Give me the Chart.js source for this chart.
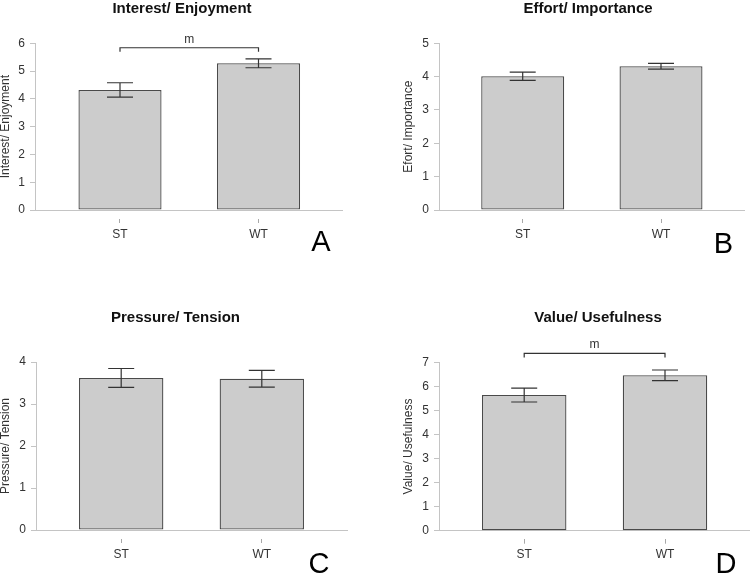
<!DOCTYPE html>
<html>
<head>
<meta charset="utf-8">
<title>Interest, effort, pressure and value by group</title>
<script src="https://cdn.jsdelivr.net/npm/chart.js"></script>
<style>
  body { margin: 0; background: #fff; }
  #wrap { position: relative; width: 750px; height: 575px; background: #fff; overflow: hidden; }
  #wrap canvas { position: absolute; }
</style>
</head>
<body>
<div id="wrap">
  <canvas id="panelA" width="375" height="290" style="left:0;top:0"></canvas>
  <canvas id="panelB" width="375" height="290" style="left:375px;top:0"></canvas>
  <canvas id="panelC" width="375" height="285" style="left:0;top:290px"></canvas>
  <canvas id="panelD" width="375" height="285" style="left:375px;top:290px"></canvas>
</div>
<script>
// groups
const categories = ["ST", "WT"];

// titles / labels
const panelTitles = ["Interest/ Enjoyment", "Effort/ Importance", "Pressure/ Tension", "Value/ Usefulness"];
const axisTitles = ["Interest/ Enjoyment", "Efort/ Importance", "Pressure/ Tension", "Value/ Usefulness"];
const panelLetters = ["A", "B", "C", "D"];

// means and error bar half-lengths
const interestMeans = [4.32, 5.28];
const interestErr = [0.26, 0.16];
const effortMeans = [4.01, 4.31];
const effortErr = [0.125, 0.085];
const pressureMeans = [3.62, 3.60];
const pressureErr = [0.225, 0.20];
const valueMeans = [5.64, 6.46];
const valueErr = [0.29, 0.22];

// y axis tops
const yMaxes = [6, 5, 4, 7];

// significance brackets (label and height in axis units)
const sigLabels = ["m", "", "", "m"];
const sigLevels = [5.84, null, null, 7.37];

const FONT = "'Liberation Sans', Arial, Helvetica, sans-serif";
const AXIS_GRAY = "#c4c4c4";
const INK = "#333333";

// pixel layout of each panel inside its canvas
const layouts = [
    {id: "panelA", w: 375, h: 290, left: 35, right: 342, top: 43.3, bottom: 210, c0: 120, c1: 258.5, title: [182, 9], letter: [321, 243], yTitlePad: -1.5},
    {id: "panelB", w: 375, h: 290, left: 64, right: 369, top: 43.3, bottom: 210, c0: 147.7, c1: 286, title: [213, 9], letter: [348.5, 245], yTitlePad: 26},
    {id: "panelC", w: 375, h: 285, left: 36, right: 347, top: 72, bottom: 240, c0: 121.2, c1: 261.8, title: [175.5, 28], letter: [319, 275], yTitlePad: -1.5},
    {id: "panelD", w: 375, h: 285, left: 64, right: 375, top: 72.3, bottom: 240.7, c0: 149.2, c1: 290, title: [223, 28], letter: [351, 275], yTitlePad: 26}
];

const panelMeans = [interestMeans, effortMeans, pressureMeans, valueMeans];
const panelErrs = [interestErr, effortErr, pressureErr, valueErr];

function makeDecor(i) {
    const lay = layouts[i];
    return {
        id: "panelDecor" + i,
        afterDatasetsDraw(chart) {
            const ctx = chart.ctx;
            const xs = chart.scales.x;
            const ys = chart.scales.y;
            ctx.save();
            ctx.strokeStyle = INK;
            ctx.lineWidth = 1.2;
            panelMeans[i].forEach(function (m, k) {
                const px = xs.getPixelForValue(k);
                const hi = ys.getPixelForValue(m + panelErrs[i][k]);
                const lo = ys.getPixelForValue(m - panelErrs[i][k]);
                ctx.beginPath();
                ctx.moveTo(px, hi);
                ctx.lineTo(px, lo);
                ctx.moveTo(px - 13, hi);
                ctx.lineTo(px + 13, hi);
                ctx.moveTo(px - 13, lo);
                ctx.lineTo(px + 13, lo);
                ctx.stroke();
            });
            ctx.restore();
        },
        afterDraw(chart) {
            const ctx = chart.ctx;
            const xs = chart.scales.x;
            const ys = chart.scales.y;
            ctx.save();
            // significance bracket
            if (sigLevels[i] !== null) {
                const x0 = xs.getPixelForValue(0);
                const x1 = xs.getPixelForValue(1);
                const by = ys.getPixelForValue(sigLevels[i]);
                ctx.strokeStyle = INK;
                ctx.lineWidth = 1.2;
                ctx.beginPath();
                ctx.moveTo(x0, by + 4);
                ctx.lineTo(x0, by);
                ctx.lineTo(x1, by);
                ctx.lineTo(x1, by + 4);
                ctx.stroke();
                ctx.fillStyle = INK;
                ctx.font = "12px " + FONT;
                ctx.textAlign = "center";
                ctx.textBaseline = "alphabetic";
                ctx.fillText(sigLabels[i], (x0 + x1) / 2, by - 5);
            }
            // panel title
            ctx.fillStyle = "#111";
            ctx.font = "bold 15px " + FONT;
            ctx.textAlign = "center";
            ctx.textBaseline = "middle";
            ctx.fillText(panelTitles[i], lay.title[0], lay.title[1]);
            // panel letter
            ctx.fillStyle = "#000";
            ctx.font = "29px " + FONT;
            ctx.fillText(panelLetters[i], lay.letter[0], lay.letter[1]);
            ctx.restore();
        }
    };
}

function initPanel(i) {
    const lay = layouts[i];
    const canvas = document.getElementById(lay.id);
    const span = lay.c1 - lay.c0;
    const xMin = (lay.left - lay.c0) / span;
    const xMax = 1 + (lay.right - lay.c1) / span;

    new Chart(canvas, {
        type: "bar",
        data: {
            datasets: [{
                data: panelMeans[i].map(function (v, k) { return {x: k, y: v}; }),
                backgroundColor: "#cccccc",
                borderColor: "#4a4a4a",
                borderWidth: 1.3,
                borderSkipped: false,
                barPercentage: 0.6,
                categoryPercentage: 1
            }]
        },
        options: {
            responsive: false,
            animation: false,
            devicePixelRatio: 1,
            layout: {
                padding: {left: 0, right: lay.w - lay.right, top: lay.top, bottom: 0}
            },
            plugins: {
                legend: {display: false},
                tooltip: {enabled: false},
                title: {display: false}
            },
            scales: {
                x: {
                    type: "linear",
                    min: xMin,
                    max: xMax,
                    offset: false,
                    afterBuildTicks: function (scale) {
                        scale.ticks = categories.map(function (c, k) { return {value: k}; });
                    },
                    afterFit: function (scale) {
                        scale.height = lay.h - lay.bottom;
                    },
                    grid: {
                        offset: false,
                        drawOnChartArea: false,
                        drawTicks: true,
                        tickLength: 13,
                        tickColor: "#a8a8a8",
                        tickBorderDash: [0, 8, 5, 100]
                    },
                    border: {display: true, color: AXIS_GRAY, width: 1},
                    ticks: {
                        padding: 4,
                        color: INK,
                        font: {family: FONT, size: 12},
                        maxRotation: 0,
                        callback: function (value) { return categories[value]; }
                    }
                },
                y: {
                    min: 0,
                    max: yMaxes[i],
                    afterFit: function (scale) {
                        scale.width = lay.left;
                    },
                    grid: {
                        drawOnChartArea: false,
                        drawTicks: true,
                        tickLength: 5,
                        tickColor: AXIS_GRAY
                    },
                    border: {display: true, color: AXIS_GRAY, width: 1},
                    ticks: {
                        stepSize: 1,
                        padding: 5,
                        color: INK,
                        font: {family: FONT, size: 12}
                    },
                    title: {
                        display: true,
                        text: axisTitles[i],
                        color: INK,
                        font: {family: FONT, size: 12},
                        padding: {top: lay.yTitlePad, bottom: 0}
                    }
                }
            }
        },
        plugins: [makeDecor(i)]
    });
}

document.addEventListener("DOMContentLoaded", function () {
    for (let i = 0; i < layouts.length; i++) {
        initPanel(i);
    }
});
</script>
</body>
</html>
